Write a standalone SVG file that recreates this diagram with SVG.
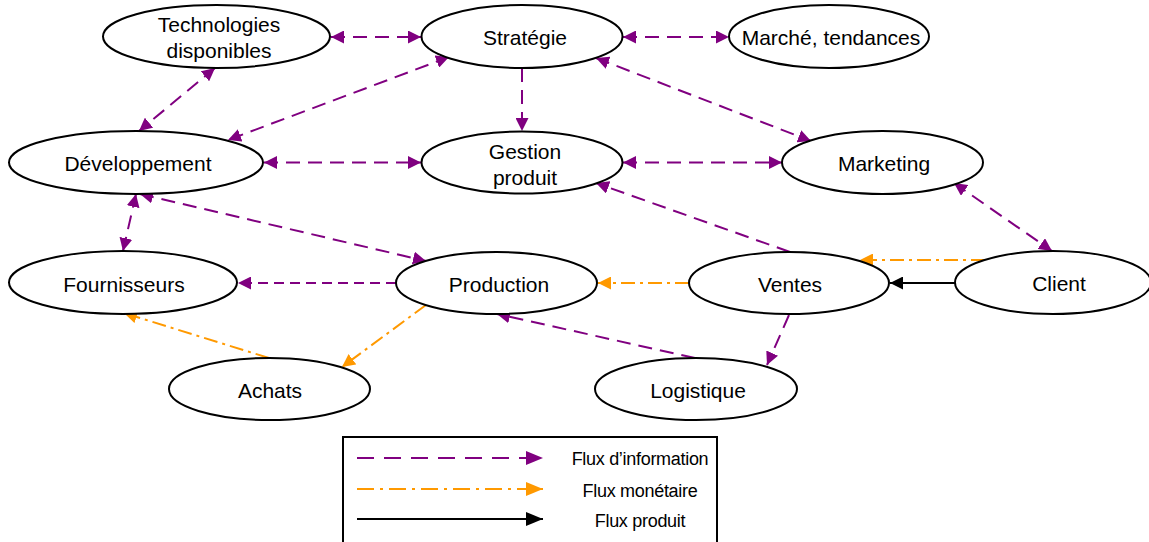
<svg xmlns="http://www.w3.org/2000/svg" width="1149" height="542" viewBox="0 0 1149 542">
<style>
.node ellipse{fill:#fff;stroke:#000;stroke-width:2}
.node text,.legend text{font-family:"Liberation Sans",Arial,sans-serif;fill:#000;text-anchor:middle}
.node text{font-size:21px}
.legend text{font-size:18px;letter-spacing:-0.3px}
.info{stroke:#800080;stroke-width:2;fill:none;stroke-dasharray:14 8}
.info.short{stroke-dasharray:10 6}
.money{stroke:#FF9900;stroke-width:2;fill:none;stroke-dasharray:14 5 3 5}
.prod{stroke:#000;stroke-width:2;fill:none}
</style>
<defs>
<marker id="ap" markerUnits="userSpaceOnUse" markerWidth="14" markerHeight="13" refX="13" refY="6.5" orient="auto-start-reverse"><path d="M0,0 L13,6.5 L0,13 z" fill="#800080"/></marker>
<marker id="ao" markerUnits="userSpaceOnUse" markerWidth="14" markerHeight="13" refX="13" refY="6.5" orient="auto-start-reverse"><path d="M0,0 L13,6.5 L0,13 z" fill="#FF9900"/></marker>
<marker id="ab" markerUnits="userSpaceOnUse" markerWidth="14" markerHeight="13" refX="13" refY="6.5" orient="auto-start-reverse"><path d="M0,0 L13,6.5 L0,13 z" fill="#000"/></marker>
<marker id="lp" markerUnits="userSpaceOnUse" markerWidth="18" markerHeight="15" refX="17" refY="7" orient="auto"><path d="M0,0 L17,7 L0,14 z" fill="#800080"/></marker>
<marker id="lo" markerUnits="userSpaceOnUse" markerWidth="18" markerHeight="15" refX="17" refY="7" orient="auto"><path d="M0,0 L17,7 L0,14 z" fill="#FF9900"/></marker>
<marker id="lb" markerUnits="userSpaceOnUse" markerWidth="18" markerHeight="15" refX="17" refY="7" orient="auto"><path d="M0,0 L17,7 L0,14 z" fill="#000"/></marker>
</defs>
<rect width="1149" height="542" fill="#fff"/>
<g id="connectors">
<line class="info" x1="331" y1="37" x2="421" y2="37" marker-start="url(#ap)" marker-end="url(#ap)"/>
<line class="info" x1="623" y1="37" x2="729" y2="37" marker-start="url(#ap)" marker-end="url(#ap)"/>
<line class="info" x1="215" y1="68" x2="139" y2="131" marker-start="url(#ap)" marker-end="url(#ap)"/>
<line class="info" x1="449" y1="57" x2="228" y2="140" marker-start="url(#ap)" marker-end="url(#ap)"/>
<line class="info" x1="522" y1="68" x2="522" y2="131" marker-end="url(#ap)"/>
<line class="info" x1="596" y1="58" x2="811" y2="141" marker-start="url(#ap)" marker-end="url(#ap)"/>
<line class="info" x1="264" y1="162.5" x2="421" y2="162.5" marker-start="url(#ap)" marker-end="url(#ap)"/>
<line class="info" x1="623" y1="162.5" x2="782" y2="162.5" marker-start="url(#ap)" marker-end="url(#ap)"/>
<line class="info" x1="954" y1="183" x2="1052" y2="251" marker-start="url(#ap)" marker-end="url(#ap)"/>
<line class="info" x1="790" y1="252" x2="596" y2="183" marker-end="url(#ap)"/>
<line class="info" x1="136" y1="194" x2="123" y2="251" marker-start="url(#ap)" marker-end="url(#ap)"/>
<line class="info" x1="140" y1="194" x2="426" y2="261" marker-start="url(#ap)" marker-end="url(#ap)"/>
<line class="info short" x1="396" y1="283" x2="238" y2="283" marker-end="url(#ap)"/>
<line class="money" x1="426" y1="305" x2="342" y2="367" marker-end="url(#ao)"/>
<line class="money" x1="269" y1="358" x2="124" y2="313" marker-end="url(#ao)"/>
<line class="money" x1="689" y1="283" x2="598" y2="283" marker-end="url(#ao)"/>
<line class="money" x1="985" y1="260" x2="860" y2="260" marker-end="url(#ao)"/>
<line class="prod" x1="955" y1="283" x2="890" y2="283" marker-end="url(#ab)"/>
<line class="info" x1="789" y1="315" x2="767" y2="365" marker-end="url(#ap)"/>
<line class="info" x1="695" y1="358" x2="497" y2="314" marker-end="url(#ap)"/>
</g>
<g id="n-technologies" class="node"><ellipse cx="216.5" cy="36.5" rx="113.5" ry="31.5"/><text x="219" y="32">Technologies</text><text x="219" y="58">disponibles</text></g>
<g id="n-strategie" class="node"><ellipse cx="522" cy="36.5" rx="100.5" ry="31.5"/><text x="525" y="45">Stratégie</text></g>
<g id="n-marche" class="node"><ellipse cx="829" cy="36.5" rx="100" ry="31.5"/><text x="831" y="45">Marché, tendances</text></g>
<g id="n-developpement" class="node"><ellipse cx="136" cy="162.5" rx="127" ry="31.5"/><text x="138" y="171">Développement</text></g>
<g id="n-gestion" class="node"><ellipse cx="522" cy="162.5" rx="100.5" ry="31"/><text x="525" y="159">Gestion</text><text x="525" y="185">produit</text></g>
<g id="n-marketing" class="node"><ellipse cx="882.5" cy="162.5" rx="100.5" ry="31.5"/><text x="884" y="171">Marketing</text></g>
<g id="n-fournisseurs" class="node"><ellipse cx="123" cy="282.5" rx="114" ry="31.5"/><text x="124" y="292">Fournisseurs</text></g>
<g id="n-production" class="node"><ellipse cx="496.5" cy="283" rx="100.5" ry="31"/><text x="499" y="292">Production</text></g>
<g id="n-ventes" class="node"><ellipse cx="789" cy="283" rx="100" ry="31"/><text x="790" y="292">Ventes</text></g>
<g id="n-client" class="node"><ellipse cx="1053" cy="282.5" rx="98" ry="31.5"/><text x="1059" y="291">Client</text></g>
<g id="n-achats" class="node"><ellipse cx="269.5" cy="389" rx="100.5" ry="31"/><text x="270" y="398">Achats</text></g>
<g id="n-logistique" class="node"><ellipse cx="696" cy="389" rx="101" ry="31"/><text x="698" y="398">Logistique</text></g>
<g id="legend" class="legend">
<rect x="343" y="437" width="374" height="110" fill="#fff" stroke="#000" stroke-width="2"/>
<line x1="357" y1="458" x2="543" y2="458" stroke="#800080" stroke-width="2" stroke-dasharray="17 10" marker-end="url(#lp)"/>
<line x1="357" y1="489" x2="543" y2="489" stroke="#FF9900" stroke-width="2" stroke-dasharray="17 6 3 6" marker-end="url(#lo)"/>
<line x1="357" y1="519" x2="543" y2="519" stroke="#000" stroke-width="2" marker-end="url(#lb)"/>
<text x="640" y="465">Flux d’information</text>
<text x="640" y="497">Flux monétaire</text>
<text x="640" y="527">Flux produit</text>
</g>
</svg>
